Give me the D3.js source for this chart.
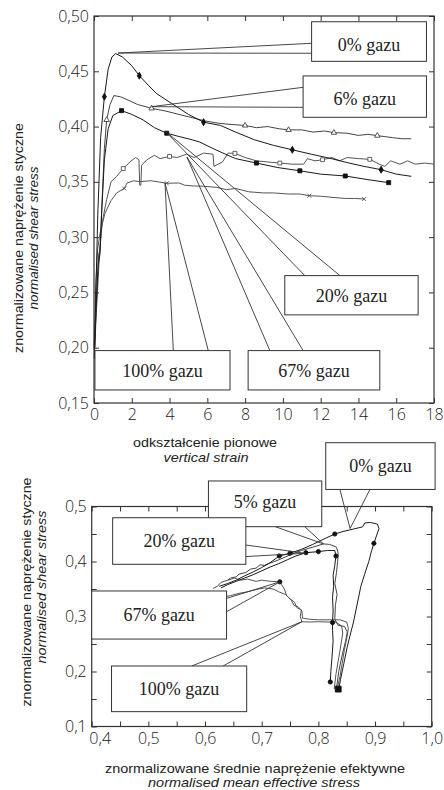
<!DOCTYPE html>
<html>
<head>
<meta charset="utf-8">
<script src="https://cdn.jsdelivr.net/npm/d3@7"></script>
<style>
  body { margin: 0; background: #fff; }
  svg { display: block; }
  .tick text { font-family: "Open Sans", sans-serif; font-weight: 300; font-size: 16px; fill: #222; }
  .tick line { stroke: #333; stroke-width: 1; }
  .title { font-family: "Liberation Sans", Arial, sans-serif; font-size: 13px; fill: #222; }
  .title.it { font-style: italic; }
  .box text { font-family: "Liberation Serif", "Times New Roman", serif; font-size: 18px; fill: #222; }
</style>
</head>
<body>
<svg id="chart" width="444" height="790"></svg>
<script>
// ---- top chart: shear stress vs vertical strain ----
const topXTicks = d3.range(0, 19, 2);
const topYTicks = [0.15, 0.20, 0.25, 0.30, 0.35, 0.40, 0.45, 0.50];

const top0 = [[0.02,0.19],[0.1,0.25],[0.2,0.32],[0.35,0.39],[0.55,0.427],[0.75,0.452],[0.95,0.463],[1.15,0.466],[1.5,0.463],[2.0,0.455],[2.4,0.446],[2.9,0.437],[3.3,0.43],[4.1,0.421],[5.0,0.411],[5.8,0.404],[6.7,0.401],[7.5,0.395],[8.5,0.388],[9.5,0.383],[10.5,0.379],[11.5,0.375],[12.5,0.3713],[13.5,0.367],[14.3,0.364],[15.2,0.361],[16.0,0.357],[16.8,0.355]];
const top6 = [[0.05,0.2],[0.15,0.25],[0.25,0.285],[0.32,0.288],[0.42,0.33],[0.55,0.38],[0.67,0.406],[0.85,0.42],[1.05,0.428],[1.4,0.427],[1.8,0.424],[2.3,0.42],[3.05,0.4165],[3.8,0.414],[4.5,0.411],[5.2,0.408],[5.9,0.405],[6.6,0.403],[7.2,0.402],[8.0,0.401],[8.6,0.399],[9.2,0.400],[9.8,0.398],[10.3,0.397],[11.0,0.397],[11.6,0.395],[12.2,0.396],[12.7,0.3945],[13.4,0.394],[14.0,0.392],[14.5,0.393],[15.0,0.3918],[15.8,0.390],[16.3,0.389],[16.8,0.389]];
const top20 = [[0.03,0.2],[0.12,0.24],[0.22,0.275],[0.32,0.285],[0.4,0.32],[0.55,0.37],[0.75,0.398],[1.0,0.41],[1.46,0.4144],[2.0,0.411],[2.6,0.406],[3.2,0.399],[3.85,0.394],[4.5,0.391],[5.2,0.388],[5.6,0.386],[6.2,0.381],[6.7,0.377],[7.5,0.371],[8.6,0.367],[9.7,0.363],[10.9,0.360],[12.0,0.357],[13.3,0.3553],[14.5,0.352],[15.6,0.3493]];
const top67 = [[0.0,0.2],[0.15,0.24],[0.3,0.288],[0.45,0.315],[0.67,0.334],[0.9,0.35],[1.2,0.355],[1.55,0.362],[1.9,0.368],[2.2,0.372],[2.38,0.37],[2.42,0.347],[2.48,0.347],[2.52,0.365],[2.8,0.37],[3.2,0.374],[3.5,0.371],[4.0,0.373],[4.4,0.372],[4.9,0.375],[5.3,0.372],[5.8,0.376],[6.3,0.375],[6.35,0.364],[6.8,0.368],[7.1,0.376],[7.46,0.3758],[8.0,0.372],[8.6,0.369],[9.2,0.368],[9.84,0.367],[10.5,0.366],[11.1,0.366],[11.3,0.371],[11.7,0.369],[12.1,0.370],[12.6,0.372],[13.0,0.369],[13.4,0.372],[14.0,0.371],[14.6,0.3704],[15.1,0.366],[15.4,0.364],[15.7,0.369],[16.2,0.366],[16.6,0.369],[17.0,0.366],[17.5,0.367],[18.0,0.366]];
const top100 = [[0.0,0.2],[0.1,0.26],[0.2,0.29],[0.32,0.3035],[0.58,0.3216],[0.9,0.333],[1.2,0.34],[1.6,0.344],[1.75,0.349],[2.1,0.351],[2.43,0.3502],[3.0,0.351],[3.4,0.350],[3.85,0.3487],[4.5,0.349],[4.8,0.347],[5.25,0.3463],[5.8,0.346],[6.5,0.345],[7.0,0.343],[7.5,0.344],[8.2,0.341],[8.96,0.340],[9.5,0.340],[10.3,0.339],[10.9,0.339],[11.4,0.3375],[12.0,0.337],[12.6,0.336],[13.3,0.335],[13.8,0.335],[14.3,0.3345]];

const top0Marks = [[0.55,0.427],[2.4,0.446],[5.8,0.404],[10.5,0.379],[15.2,0.361]];
const top6Marks = [[0.67,0.406],[3.05,0.4165],[8.0,0.401],[10.3,0.397],[12.7,0.3945],[15.0,0.3918]];
const top20Marks = [[1.46,0.4144],[3.85,0.394],[8.6,0.367],[10.9,0.360],[13.3,0.3553],[15.6,0.3493]];
const top67Marks = [[1.55,0.362],[4.0,0.373],[7.46,0.3758],[9.84,0.367],[12.1,0.370],[14.6,0.3704]];
const top100Marks = [[1.6,0.344],[3.85,0.3487],[11.4,0.3375],[14.3,0.3345]];

const topLabels = ['0% gazu', '6% gazu', '20% gazu', '67% gazu', '100% gazu'];
const topBoxes = [[11.52,0.4948,17.6,0.459],[11.07,0.4458,17.6,0.4084],[10.1,0.2652,17.16,0.2297],[8.16,0.1974,15.13,0.1618],[0.05,0.1974,7.2,0.1618]];
const topTips = [[1.27,0.4665],[3.05,0.418],[3.76,0.396],[4.92,0.3725],[3.76,0.349]];
const topAttach = [[[11.52,0.4753],[11.52,0.4663]],[[11.07,0.4355],[11.07,0.4174]],[[11.16,0.2652],[13.02,0.2652]],[[9.31,0.1974],[11.07,0.1974]],[[4.2,0.1974],[6.05,0.1974]]];

// ---- bottom chart: stress paths ----
const botXTicks = d3.range(0.4, 1.0001, 0.05);
const botYTicks = d3.range(0.1, 0.5001, 0.05);

const bot0 = [[0.836,0.168],[0.839,0.185],[0.845,0.215],[0.851,0.245],[0.857,0.27],[0.862,0.29],[0.866,0.31],[0.87,0.33],[0.875,0.355],[0.882,0.378],[0.889,0.4],[0.894,0.42],[0.898,0.433],[0.903,0.448],[0.907,0.46],[0.904,0.468],[0.892,0.471],[0.882,0.47],[0.878,0.463],[0.862,0.459],[0.845,0.455],[0.829,0.45],[0.81,0.441],[0.79,0.431],[0.77,0.422],[0.75,0.415],[0.731,0.41],[0.715,0.398],[0.70,0.389],[0.685,0.381],[0.67,0.374],[0.655,0.366],[0.64,0.36],[0.625,0.355]];
const bot5 = [[0.832,0.17],[0.836,0.2],[0.842,0.23],[0.848,0.255],[0.851,0.272],[0.846,0.282],[0.835,0.284],[0.829,0.295],[0.83,0.32],[0.833,0.34],[0.829,0.36],[0.832,0.38],[0.834,0.4],[0.835,0.415],[0.832,0.426],[0.82,0.431],[0.809,0.432],[0.79,0.426],[0.77,0.42],[0.75,0.412],[0.73,0.403],[0.712,0.396],[0.705,0.393],[0.697,0.394],[0.69,0.388],[0.68,0.386],[0.672,0.38],[0.66,0.377],[0.655,0.372],[0.645,0.37],[0.64,0.366]];
const bot20 = [[0.821,0.181],[0.822,0.2],[0.824,0.225],[0.826,0.255],[0.825,0.275],[0.825,0.289],[0.826,0.31],[0.825,0.335],[0.827,0.355],[0.826,0.375],[0.829,0.393],[0.831,0.41],[0.829,0.42],[0.816,0.42],[0.80,0.418],[0.778,0.416],[0.76,0.41],[0.745,0.403],[0.73,0.396],[0.715,0.39],[0.70,0.383],[0.685,0.376],[0.67,0.37],[0.655,0.364],[0.64,0.358],[0.628,0.352]];
const bot67 = [[0.833,0.168],[0.838,0.19],[0.842,0.215],[0.846,0.24],[0.85,0.26],[0.853,0.278],[0.85,0.29],[0.838,0.294],[0.82,0.294],[0.80,0.294],[0.785,0.295],[0.772,0.297],[0.771,0.31],[0.764,0.318],[0.757,0.32],[0.752,0.33],[0.744,0.338],[0.74,0.35],[0.735,0.358],[0.732,0.363],[0.715,0.364],[0.70,0.366],[0.69,0.364],[0.675,0.368],[0.662,0.366],[0.652,0.37],[0.64,0.366],[0.628,0.362],[0.622,0.355],[0.614,0.351]];
const bot100 = [[0.828,0.168],[0.831,0.195],[0.836,0.225],[0.84,0.25],[0.843,0.27],[0.841,0.283],[0.83,0.29],[0.815,0.29],[0.80,0.2905],[0.785,0.29],[0.771,0.2905],[0.768,0.3],[0.77,0.312],[0.762,0.316],[0.758,0.326],[0.75,0.332],[0.742,0.34],[0.73,0.345],[0.72,0.35],[0.705,0.352],[0.69,0.349],[0.675,0.345],[0.66,0.342],[0.645,0.338],[0.635,0.336]];

const botCircleMarks = [[0.898,0.433],[0.829,0.45],[0.821,0.181],[0.825,0.289],[0.831,0.41],[0.80,0.418],[0.778,0.416],[0.75,0.415],[0.731,0.41],[0.732,0.363]];
const botSquareMarks = [[0.835,0.168]];

const botLabels = ['0% gazu', '5% gazu', '20% gazu', '67% gazu', '100% gazu'];
const botBoxes = [[0.813,0.616,1.006,0.531],[0.606,0.5464,0.806,0.4633],[0.437,0.4796,0.672,0.3949],[0.4,0.3464,0.638,0.259],[0.435,0.21,0.6735,0.127]];
const botTips = [[0.856,0.46],[0.809,0.432],[0.777,0.415],[0.732,0.363],[0.771,0.2905]];
const botAttach = [[[0.838,0.531],[0.891,0.531]],[[0.724,0.4633],[0.776,0.4633]],[[0.672,0.430],[0.672,0.409]],[[0.638,0.333],[0.638,0.3087]],[[0.5765,0.21],[0.632,0.21]]];

// ---- drawing ----
const svg = d3.select('#chart');
const loc = d3.formatLocale({ decimal: ',', thousands: ' ', grouping: [3], currency: ['', ''] });
const f2 = loc.format('.2f'), f1 = loc.format('.1f');
const near = (v, s) => Math.abs(v / s - Math.round(v / s)) < 1e-6;

function frame(g, x, y, xt, yt, xfmt, yfmt) {
  const [x0, x1] = x.range(), [y0, y1] = y.range();
  const bottom = g.append('g').attr('class', 'xaxis').attr('transform', `translate(0,${y0})`)
    .call(d3.axisBottom(x).tickValues(xt).tickSize(-5).tickPadding(6).tickFormat(xfmt));
  g.append('g').attr('transform', `translate(${x0},0)`)
    .call(d3.axisLeft(y).tickValues(yt).tickSize(-5).tickPadding(5).tickFormat(yfmt));
  g.append('g').attr('transform', `translate(0,${y1})`)
    .call(d3.axisTop(x).tickValues(xt).tickSize(-5).tickFormat(''));
  g.append('g').attr('transform', `translate(${x1},0)`)
    .call(d3.axisRight(y).tickValues(yt).tickSize(-5).tickFormat(''));
  g.selectAll('.domain').remove();
  g.append('rect').attr('x', x0).attr('y', y1).attr('width', x1 - x0).attr('height', y0 - y1)
    .attr('fill', 'none').attr('stroke', '#333').attr('stroke-width', 1.2);
  return bottom;
}

function curve(g, x, y, pts, color, w) {
  const line = d3.line().x(d => x(d[0])).y(d => y(d[1]));
  g.append('path').datum(pts).attr('d', line)
    .attr('fill', 'none').attr('stroke', color).attr('stroke-width', w || 1)
    .attr('stroke-linejoin', 'round');
}

function marks(g, x, y, pts, type, size, filled, color) {
  g.selectAll(null).data(pts).join('path')
    .attr('transform', d => `translate(${x(d[0])},${y(d[1])})`)
    .attr('d', d3.symbol().type(type).size(size))
    .attr('fill', filled ? color : '#fff')
    .attr('stroke', color).attr('stroke-width', 0.9);
}

function callouts(g, x, y, labels, boxes, tips, attach, dys) {
  labels.forEach((lab, i) => {
    const t = tips[i];
    attach[i].forEach(a => {
      g.append('line').attr('x1', x(a[0])).attr('y1', y(a[1])).attr('x2', x(t[0])).attr('y2', y(t[1]))
        .attr('stroke', '#333').attr('stroke-width', 0.9);
    });
  });
  labels.forEach((lab, i) => {
    const b = boxes[i];
    const bx = x(b[0]), by = y(b[1]), bw = x(b[2]) - x(b[0]), bh = y(b[3]) - y(b[1]);
    const bg = g.append('g').attr('class', 'box');
    bg.append('rect').attr('x', bx).attr('y', by).attr('width', bw).attr('height', bh)
      .attr('fill', '#fff').attr('stroke', '#333').attr('stroke-width', 1);
    bg.append('text').attr('x', bx + bw / 2).attr('y', by + bh / 2 + (dys ? dys[i] : 0))
      .attr('text-anchor', 'middle').attr('dominant-baseline', 'central').text(lab);
  });
}

function title(g, txt, cx, cy, len, italic, rotate) {
  g.append('text').attr('class', italic ? 'title it' : 'title')
    .attr('transform', `translate(${cx},${cy})` + (rotate ? ' rotate(-90)' : ''))
    .attr('text-anchor', 'middle')
    .attr('textLength', len).attr('lengthAdjust', 'spacingAndGlyphs')
    .text(txt);
}

// top chart
const xT = d3.scaleLinear([0, 18], [94, 434]);
const yT = d3.scaleLinear([0.15, 0.5], [403, 16]);
const gT = svg.append('g');
frame(gT, xT, yT, topXTicks, topYTicks, d3.format('d'), f2);
const cT = gT.append('g');
curve(cT, xT, yT, top100, '#555');
curve(cT, xT, yT, top67, '#555');
curve(cT, xT, yT, top6, '#444');
curve(cT, xT, yT, top20, '#1a1a1a');
curve(cT, xT, yT, top0, '#1a1a1a');
marks(cT, xT, yT, top0Marks, d3.symbolDiamond, 14, true, '#111');
marks(cT, xT, yT, top6Marks, d3.symbolTriangle, 13, false, '#444');
marks(cT, xT, yT, top20Marks, d3.symbolSquare, 16, true, '#111');
marks(cT, xT, yT, top67Marks, d3.symbolSquare, 15, false, '#555');
marks(cT, xT, yT, top100Marks, d3.symbolTimes || d3.symbolCross, 12, false, '#555');
callouts(gT, xT, yT, topLabels, topBoxes, topTips, topAttach, [3, 2, 1, 1, 1]);
title(gT, 'odkształcenie pionowe', 205, 447, 144, false, false);
title(gT, 'vertical strain', 206, 462, 85, true, false);
title(gT, 'znormalizowane naprężenie styczne', 23, 238, 230, false, true);
title(gT, 'normalised shear stress', 38, 238, 143, true, true);

// bottom chart
const xB = d3.scaleLinear([0.4, 1.0], [91.7, 431.7]);
const yB = d3.scaleLinear([0.1, 0.5], [726.5, 506.5]);
const gB = svg.append('g');
const cB = gB.append('g');
curve(cB, xB, yB, bot100, '#555');
curve(cB, xB, yB, bot67, '#555');
curve(cB, xB, yB, bot5, '#444');
curve(cB, xB, yB, bot20, '#1a1a1a');
curve(cB, xB, yB, bot0, '#1a1a1a');
marks(cB, xB, yB, botCircleMarks, d3.symbolCircle, 14, true, '#111');
marks(cB, xB, yB, botSquareMarks, d3.symbolSquare, 34, true, '#111');
const xAxB = frame(gB, xB, yB, botXTicks, botYTicks,
  d => near(d, 0.1) ? f1(d) : '', d => near(d, 0.1) ? f1(d) : '');
// first label sits right of the corner, as in the source figure
xAxB.selectAll('.tick text').filter(d => Math.abs(d - 0.4) < 1e-6).attr('dx', 8);
callouts(gB, xB, yB, botLabels, botBoxes, botTips, botAttach, [0, -2, 0, 0, 0]);
title(gB, 'znormalizowane średnie naprężenie efektywne', 255, 773, 300, false, false);
title(gB, 'normalised mean effective stress', 254, 787, 212, true, false);
title(gB, 'znormalizowane naprężenie styczne', 31, 592, 229, false, true);
title(gB, 'normalised shear stress', 46, 587, 153, true, true);
</script>
</body>
</html>
